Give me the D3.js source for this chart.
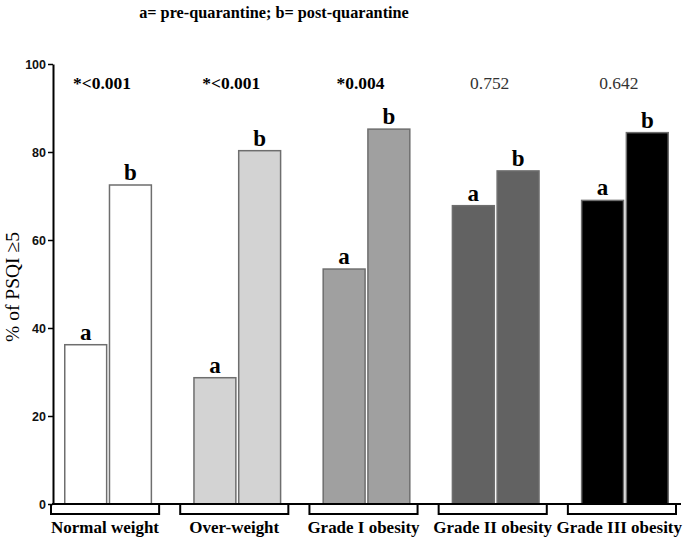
<!DOCTYPE html>
<html><head><meta charset="utf-8">
<script src="https://cdn.jsdelivr.net/npm/d3@7/dist/d3.min.js"></script>
<style>body{margin:0;background:#fff}</style>
</head><body>
<svg id="c" width="685" height="540"></svg>
<script>
const categories = ["Normal weight","Over-weight","Grade I obesity","Grade II obesity","Grade III obesity"];
const preValues = [36.2, 28.7, 53.4, 67.8, 69.0];
const postValues = [72.5, 80.3, 85.2, 75.7, 84.4];
const pValues = ["*<0.001","*<0.001","*0.004","0.752","0.642"];
const pBold = [true,true,true,false,false];
const groupColors = ["#ffffff","#d3d3d3","#a0a0a0","#626262","#000000"];
const seriesKeys = ["a","b"];
const yTicks = [0,20,40,60,80,100];

const svg = d3.select("#c");
const serif = "'Liberation Serif','DejaVu Serif',serif";
const sans = "'Liberation Sans',Arial,sans-serif";

// scale font so the text node has the given width
function fit(sel, width){
  const n = sel.node(); const fs = +sel.attr("font-size");
  const w = n.getComputedTextLength();
  const s = fs*width/w; sel.attr("font-size", s); return s;
}

const y = d3.scaleLinear().domain([0,100]).range([504,64]);
const x0 = d3.scaleBand().domain(categories).range([64,669]).paddingInner(0.318).paddingOuter(0);
const x1 = d3.scaleBand().domain(seriesKeys).range([0,x0.bandwidth()]).paddingInner(0.03);

// title
fit(svg.append("text").attr("x",274).attr("y",18).attr("text-anchor","middle")
  .attr("font-family",serif).attr("font-weight","bold").attr("font-size",15)
  .text("a= pre-quarantine; b= post-quarantine"), 270);

// bars
const data = categories.map((c,i)=>({c,i,vals:[{k:"a",v:preValues[i]},{k:"b",v:postValues[i]}]}));
const g = svg.selectAll("g.grp").data(data).join("g").attr("class","grp")
  .attr("transform",d=>`translate(${x0(d.c)},0)`);
g.selectAll("rect").data(d=>d.vals.map(v=>({...v,i:d.i}))).join("rect")
  .attr("x",d=>x1(d.k)+0.75).attr("width",x1.bandwidth()-1.5)
  .attr("y",d=>y(d.v)).attr("height",d=>y(0)-y(d.v))
  .attr("fill",d=>groupColors[d.i]).attr("stroke","#6e6e6e").attr("stroke-width",1.5);
g.selectAll("text.lab").data(d=>d.vals).join("text").attr("class","lab")
  .attr("x",d=>x1(d.k)+x1.bandwidth()/2).attr("y",d=>y(d.v)-5)
  .attr("text-anchor","middle").attr("font-family",serif).attr("font-weight","bold")
  .attr("font-size",23).text(d=>d.k);

// p-values
const pv = svg.selectAll("text.pv").data(categories).join("text").attr("class","pv")
  .attr("x",(c,i)=>x0(c)+x0.bandwidth()/2-6).attr("y",89).attr("text-anchor","middle")
  .attr("font-family",serif).attr("font-size",14)
  .attr("font-weight",(c,i)=>pBold[i]?"bold":"normal").attr("fill",(c,i)=>pBold[i]?"#000":"#333")
  .text((c,i)=>pValues[i]);
const pfs = fit(pv.filter((c,i)=>i===0), 58);
pv.attr("font-size", pfs);

// y axis
const yAxis = d3.axisLeft(y).tickValues(yTicks).tickSize(5).tickPadding(2).tickSizeOuter(0);
const ya = svg.append("g").attr("transform","translate(53,0)").call(yAxis);
ya.select(".domain").attr("stroke","#000").attr("stroke-width",2);
ya.selectAll(".tick line").attr("stroke","#000").attr("stroke-width",1.5);
ya.selectAll(".tick text").attr("font-family",sans).attr("font-weight","bold").attr("font-size",12.5).attr("fill","#111");

// baseline
svg.append("line").attr("x1",52).attr("x2",681).attr("y1",y(0)).attr("y2",y(0))
  .attr("stroke","#000").attr("stroke-width",2);

// brackets
const bl = c=>x0(c)-13, br = c=>x0(c)+x0.bandwidth()+7;
svg.selectAll("path.br").data(categories).join("path").attr("class","br")
  .attr("d",c=>`M${bl(c)},${y(0)+1}V514H${br(c)}V${y(0)+1}`)
  .attr("fill","none").attr("stroke","#000").attr("stroke-width",2);
const xl = svg.selectAll("text.xl").data(categories).join("text").attr("class","xl")
  .attr("x",c=>(bl(c)+br(c))/2).attr("y",533).attr("text-anchor","middle")
  .attr("font-family",serif).attr("font-weight","bold").attr("font-size",14).text(c=>c);
const xfs = fit(xl.filter((c,i)=>i===0), 108);
xl.attr("font-size", xfs);
// keep the last label inside the picture
xl.each(function(){
  const t = d3.select(this), w = this.getComputedTextLength(), cx = +t.attr("x");
  if (cx + w/2 > 682) t.attr("x", 682 - w/2);
});

// y title
fit(svg.append("text").attr("transform","translate(19,287) rotate(-90)").attr("text-anchor","middle")
  .attr("font-family",serif).attr("font-size",16).text("% of PSQI \u22655"), 110);
</script>
</body></html>
